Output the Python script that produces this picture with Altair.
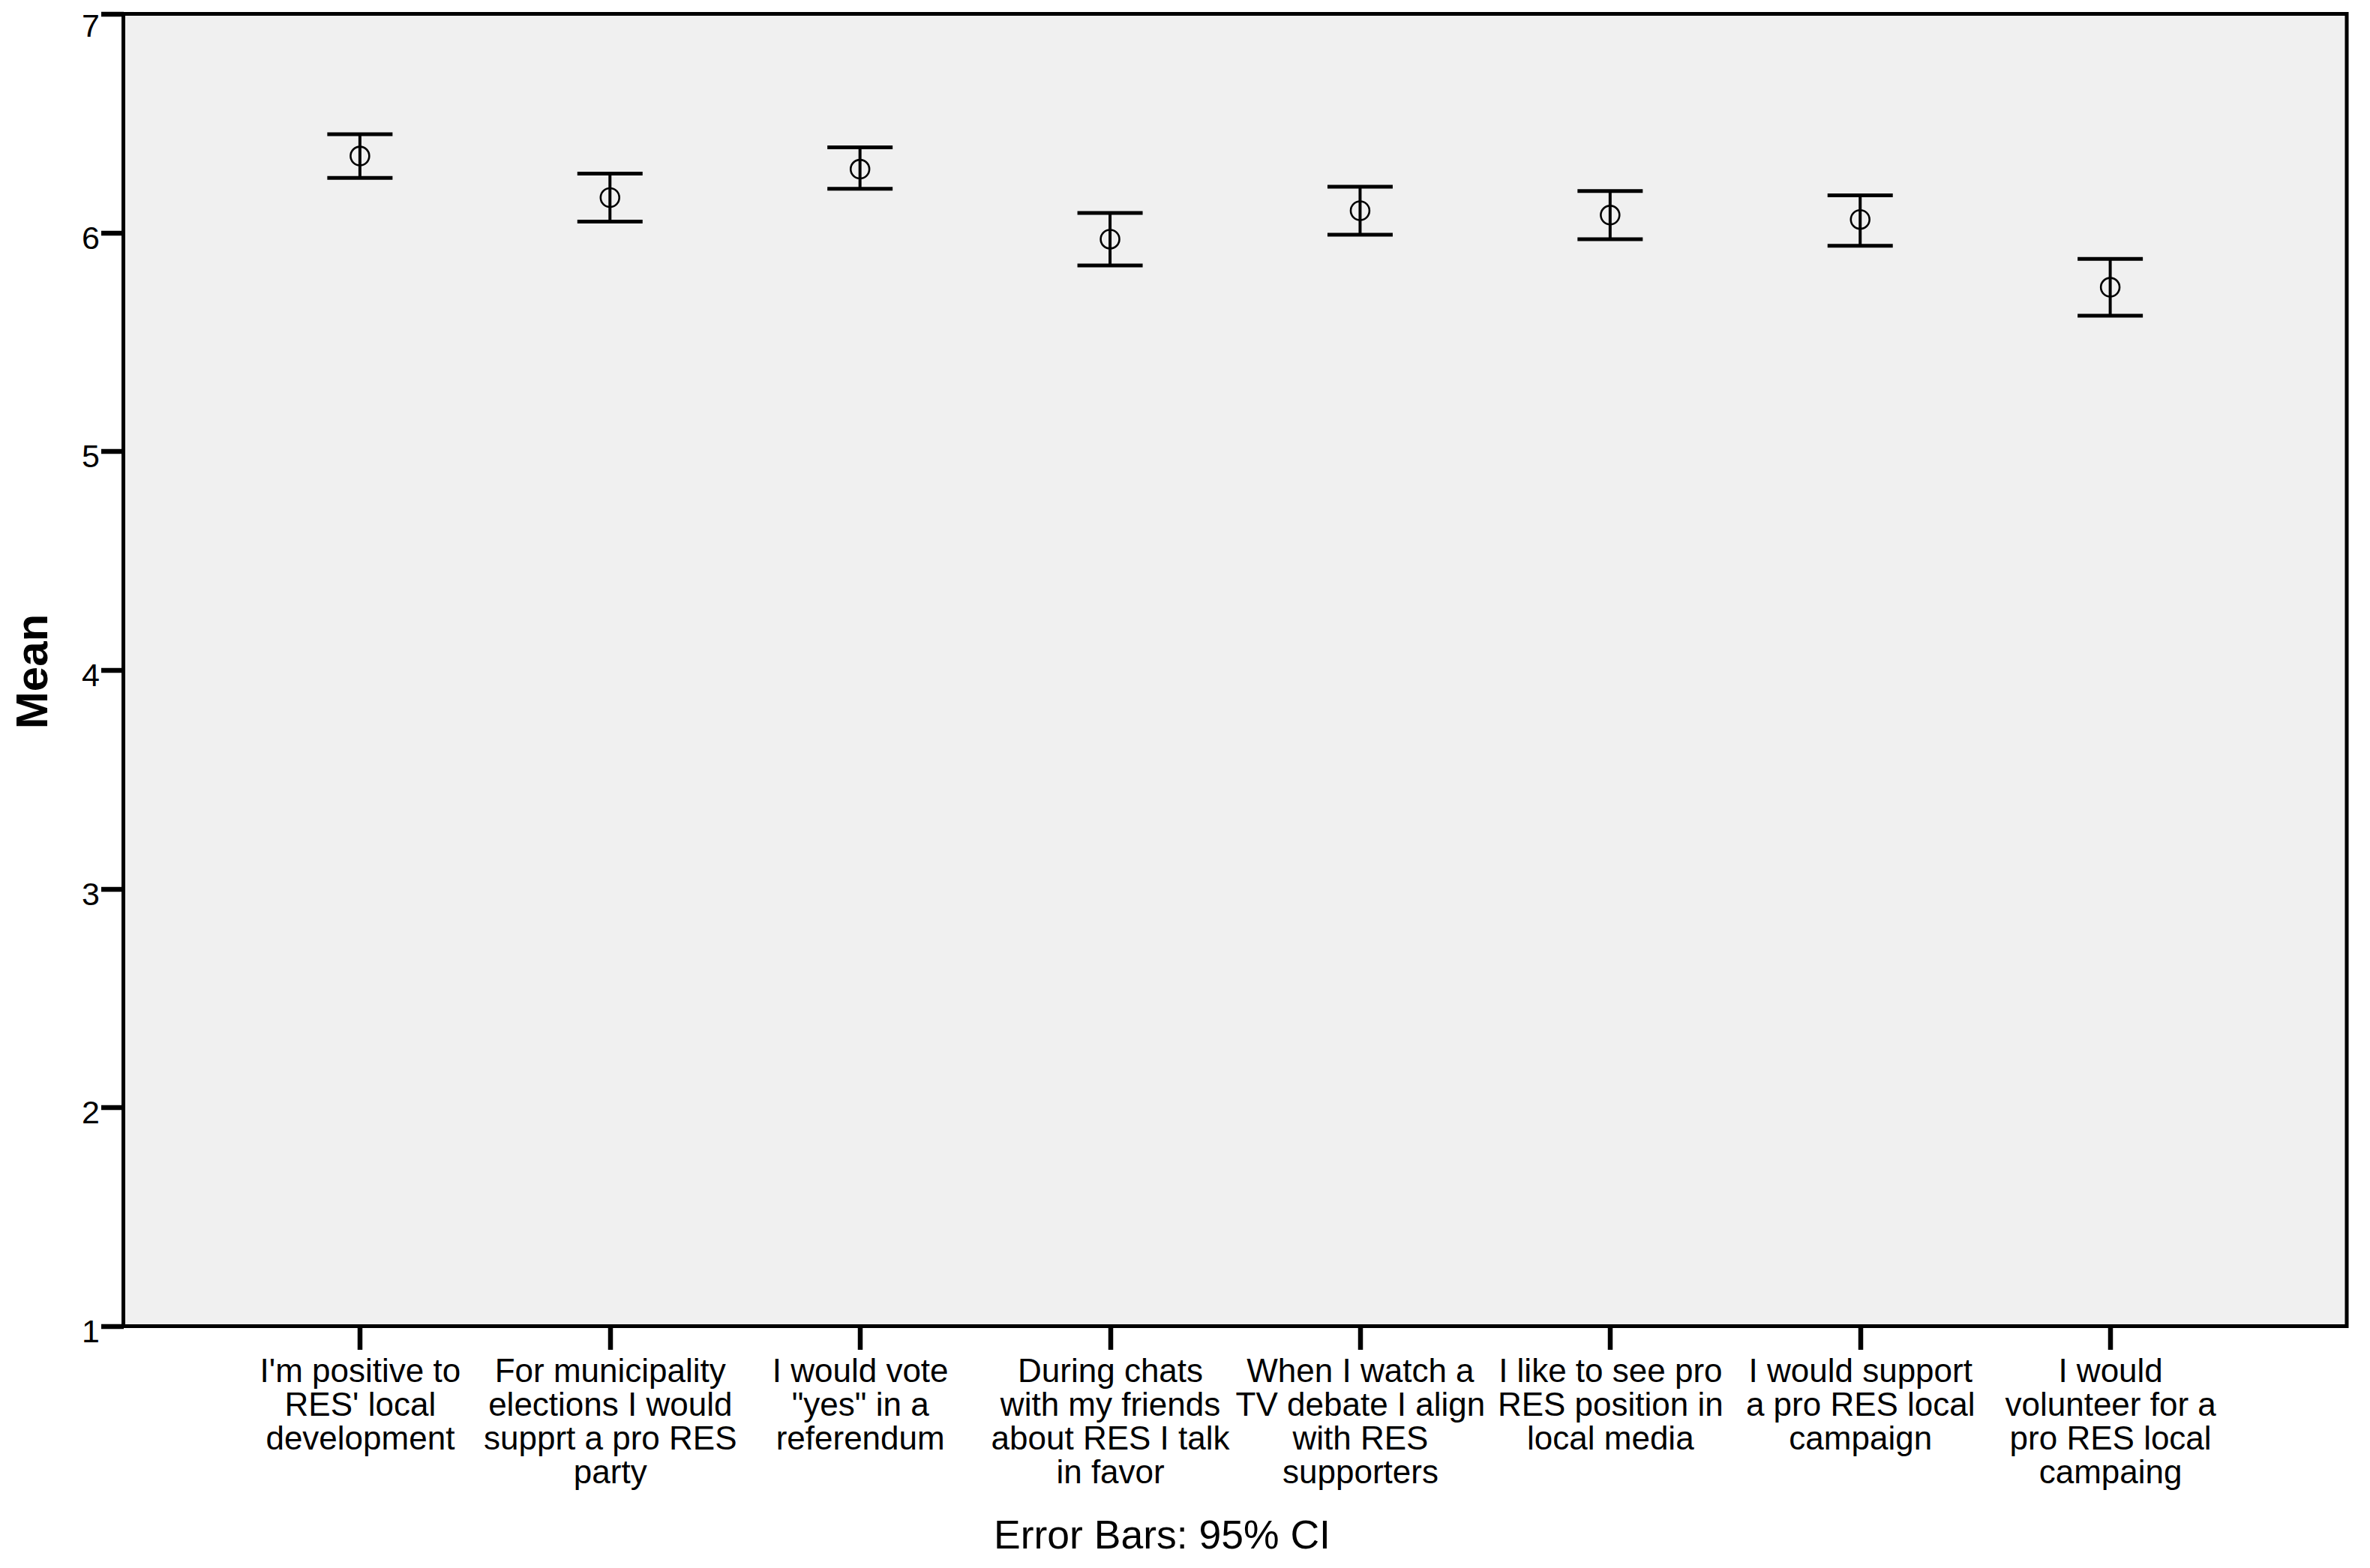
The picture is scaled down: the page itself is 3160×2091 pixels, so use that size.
import altair as alt
import pandas as pd

# ---- data ----
category_lines = [
    ["I'm positive to", "RES' local", "development"],
    ["For municipality", "elections I would", "supprt a pro RES", "party"],
    ["I would vote", "\"yes\" in a", "referendum"],
    ["During chats", "with my friends", "about RES I talk", "in favor"],
    ["When I watch a", "TV debate I align", "with RES", "supporters"],
    ["I like to see pro", "RES position in", "local media"],
    ["I would support", "a pro RES local", "campaign"],
    ["I would", "volunteer for a", "pro RES local", "campaing"],
]
categories = ["|".join(lines) for lines in category_lines]
means = [6.35, 6.16, 6.29, 5.97, 6.10, 6.08, 6.06, 5.75]
ci_lower = [6.25, 6.05, 6.20, 5.85, 5.99, 5.97, 5.94, 5.62]
ci_upper = [6.45, 6.27, 6.39, 6.09, 6.21, 6.19, 6.17, 5.88]
y_ticks = [1, 2, 3, 4, 5, 6, 7]

df = pd.DataFrame({"item": categories, "mean": means,
                   "lower": ci_lower, "upper": ci_upper})

FONT = "Liberation Sans"

x_enc = alt.X(
    "item:N", sort=categories,
    scale=alt.Scale(type="point", padding=0.946),
    axis=alt.Axis(
        title="Error Bars: 95% CI",
        labelExpr="split(datum.label, '|')",
        labelAngle=0, labelFont=FONT, labelFontSize=44, labelLineHeight=45,
        labelBaseline="top", labelAlign="center", labelPadding=8,
        labelColor="black", labelLimit=0, labelOverlap=False,
        labelFlush=False, labelBound=False,
        ticks=True, tickSize=31, tickWidth=6.5, tickColor="black",
        domain=False, grid=False,
        titleFont=FONT, titleFontSize=53.5, titleFontWeight="normal",
        titleColor="black", titleX=1384.5, titleY=296,
        titleBaseline="alphabetic", titleAlign="center",
    ),
)

y_scale = alt.Scale(domain=[1, 7], nice=False, zero=False)
y_axis = alt.Axis(
    title="Mean", values=y_ticks, format="d",
    labelFont=FONT, labelFontSize=43, labelColor="black",
    labelPadding=2,
    labelOffset={"condition": {"test": "datum.value == 7", "value": 17}, "value": 8},
    labelOverlap=False, labelFlush=False,
    tickSize=30, tickWidth=6.5, tickColor="black",
    domain=False, grid=False,
    titleFont=FONT, titleFontSize=60, titleFontWeight="bold",
    titleColor="black", titleAngle=270, titleX=-102, titleY=876.5,
    titleAlign="center", titleBaseline="alphabetic",
)

base = alt.Chart(df).encode(x=x_enc)

rule = base.mark_rule(color="black", strokeWidth=4, opacity=1).encode(
    y=alt.Y("lower:Q", scale=y_scale, axis=y_axis),
    y2="upper:Q",
)
cap_low = base.mark_tick(color="black", size=87, thickness=5, opacity=1).encode(
    y=alt.Y("lower:Q", scale=y_scale, axis=y_axis)
)
cap_high = base.mark_tick(color="black", size=87, thickness=5, opacity=1).encode(
    y=alt.Y("upper:Q", scale=y_scale, axis=y_axis)
)
points = base.mark_point(shape="circle", filled=False, size=620, color="black",
                         strokeWidth=2.6, opacity=1).encode(
    y=alt.Y("mean:Q", scale=y_scale, axis=y_axis)
)

chart = (
    alt.layer(rule, cap_low, cap_high, points)
    .properties(
        width=2964.5, height=1750,
        autosize=alt.AutoSizeParams(type="none"),
        padding={"left": 156.5, "top": 10.5, "right": 15, "bottom": 313},
        background="white",
    )
    .configure_view(stroke="black", strokeWidth=5, fill="#f0f0f0")
)

chart.save("out.html", embed_options={"renderer": "svg", "actions": False})
